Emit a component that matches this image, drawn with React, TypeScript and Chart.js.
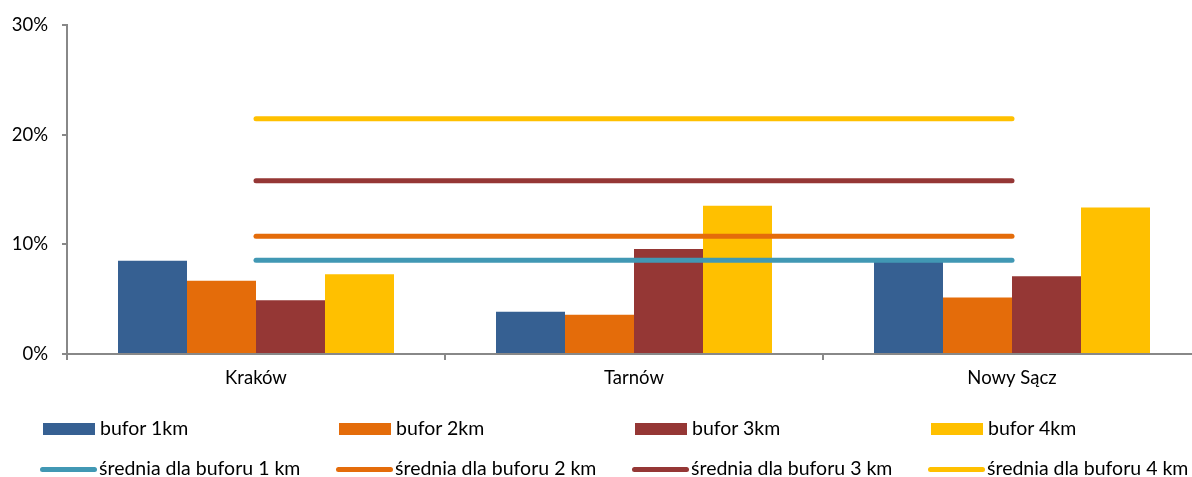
import React, { useEffect, useRef } from "react";
import { Chart, registerables } from "chart.js";

Chart.register(...registerables);

const categories = ["Kraków", "Tarnów", "Nowy Sącz"];
const bufor1 = [8.5, 3.85, 8.5];
const bufor2 = [6.67, 3.58, 5.15];
const bufor3 = [4.91, 9.58, 7.09];
const bufor4 = [7.27, 13.52, 13.36];
const srednia1 = [8.55, 8.55, 8.55];
const srednia2 = [10.75, 10.75, 10.75];
const srednia3 = [15.8, 15.8, 15.8];
const srednia4 = [21.45, 21.45, 21.45];
const yTicks = [0, 10, 20, 30];

const barLabels = ["bufor 1km", "bufor 2km", "bufor 3km", "bufor 4km"];
const lineLabels = [
  "średnia dla buforu 1 km",
  "średnia dla buforu 2 km",
  "średnia dla buforu 3 km",
  "średnia dla buforu 4 km",
];
const barColors = ["#366092", "#E46C0A", "#953735", "#FFC000"];
const lineColors = ["#4198B4", "#E46C0A", "#953735", "#FFC000"];

const FONT = "Lato, 'Open Sans', sans-serif";

export default function App() {
  const ref = useRef<HTMLCanvasElement | null>(null);

  useEffect(() => {
    if (!ref.current) return;
    const barData = [bufor1, bufor2, bufor3, bufor4];
    const lineData = [srednia1, srednia2, srednia3, srednia4];
    const chart = new Chart(ref.current, {
      type: "bar",
      data: {
        labels: categories,
        datasets: [
          ...barData.map((d, i) => ({
            type: "bar" as const,
            label: barLabels[i],
            data: d,
            backgroundColor: barColors[i],
            borderWidth: 0,
            order: 2,
            categoryPercentage: 276 / 378,
            barPercentage: 1,
          })),
          ...lineData.map((d, i) => ({
            type: "line" as const,
            label: lineLabels[i],
            data: d,
            borderColor: lineColors[i],
            backgroundColor: lineColors[i],
            borderWidth: 5,
            borderCapStyle: "round" as const,
            pointRadius: 0,
            order: 1,
          })),
        ],
      },
      options: {
        responsive: false,
        animation: false,
        layout: { padding: { top: 24, right: 9, left: 0, bottom: 0 } },
        plugins: { legend: { display: false }, tooltip: { enabled: false } },
        scales: {
          x: {
            offset: true,
            grid: {
              offset: true,
              drawOnChartArea: false,
              drawTicks: true,
              tickLength: 6,
              color: "#888888",
              lineWidth: 2,
            },
            border: { display: true, color: "#888888", width: 2 },
            ticks: {
              color: "#000",
              font: { family: FONT, size: 18.5 },
              padding: 7,
              maxRotation: 0,
            },
            afterFit: (s: any) => {
              s.height = 123;
            },
          },
          y: {
            min: 0,
            max: 30,
            afterBuildTicks: (s: any) => {
              s.ticks = yTicks.map((v) => ({ value: v }));
            },
            grid: {
              drawOnChartArea: false,
              drawTicks: true,
              tickLength: 5,
              color: "#888888",
              lineWidth: 2,
            },
            border: { display: true, color: "#888888", width: 2 },
            ticks: {
              color: "#000",
              font: { family: FONT, size: 18.5 },
              padding: 14,
              callback: (v: any) => v + "%",
            },
            afterFit: (s: any) => {
              s.width = 67;
            },
          },
        },
      },
    });
    return () => chart.destroy();
  }, []);

  const colX = [44, 340, 636, 932];
  const textStyle: React.CSSProperties = {
    position: "absolute",
    fontFamily: FONT,
    fontSize: 19.5,
    color: "#000",
    whiteSpace: "nowrap",
    lineHeight: "22px",
  };

  return (
    <div
      style={{
        position: "absolute",
        left: 0,
        top: 0,
        width: 1192,
        height: 477,
        overflow: "hidden",
        background: "#fff",
      }}
    >
      <canvas
        ref={ref}
        width={1210}
        height={477}
        style={{ position: "absolute", left: 0, top: 0, width: 1210, height: 477 }}
      />
      {barLabels.map((l, i) => (
        <React.Fragment key={l}>
          <div
            style={{
              position: "absolute",
              left: colX[i] - 1,
              top: 423,
              width: 52,
              height: 12,
              background: barColors[i],
            }}
          />
          <div style={{ ...textStyle, left: colX[i] + 56, top: 417 }}>{l}</div>
        </React.Fragment>
      ))}
      {lineLabels.map((l, i) => (
        <React.Fragment key={l}>
          <div
            style={{
              position: "absolute",
              left: colX[i] - 4,
              top: 467,
              width: 57,
              height: 5,
              borderRadius: 3,
              background: lineColors[i],
            }}
          />
          <div style={{ ...textStyle, left: colX[i] + 55, top: 457 }}>{l}</div>
        </React.Fragment>
      ))}
    </div>
  );
}
